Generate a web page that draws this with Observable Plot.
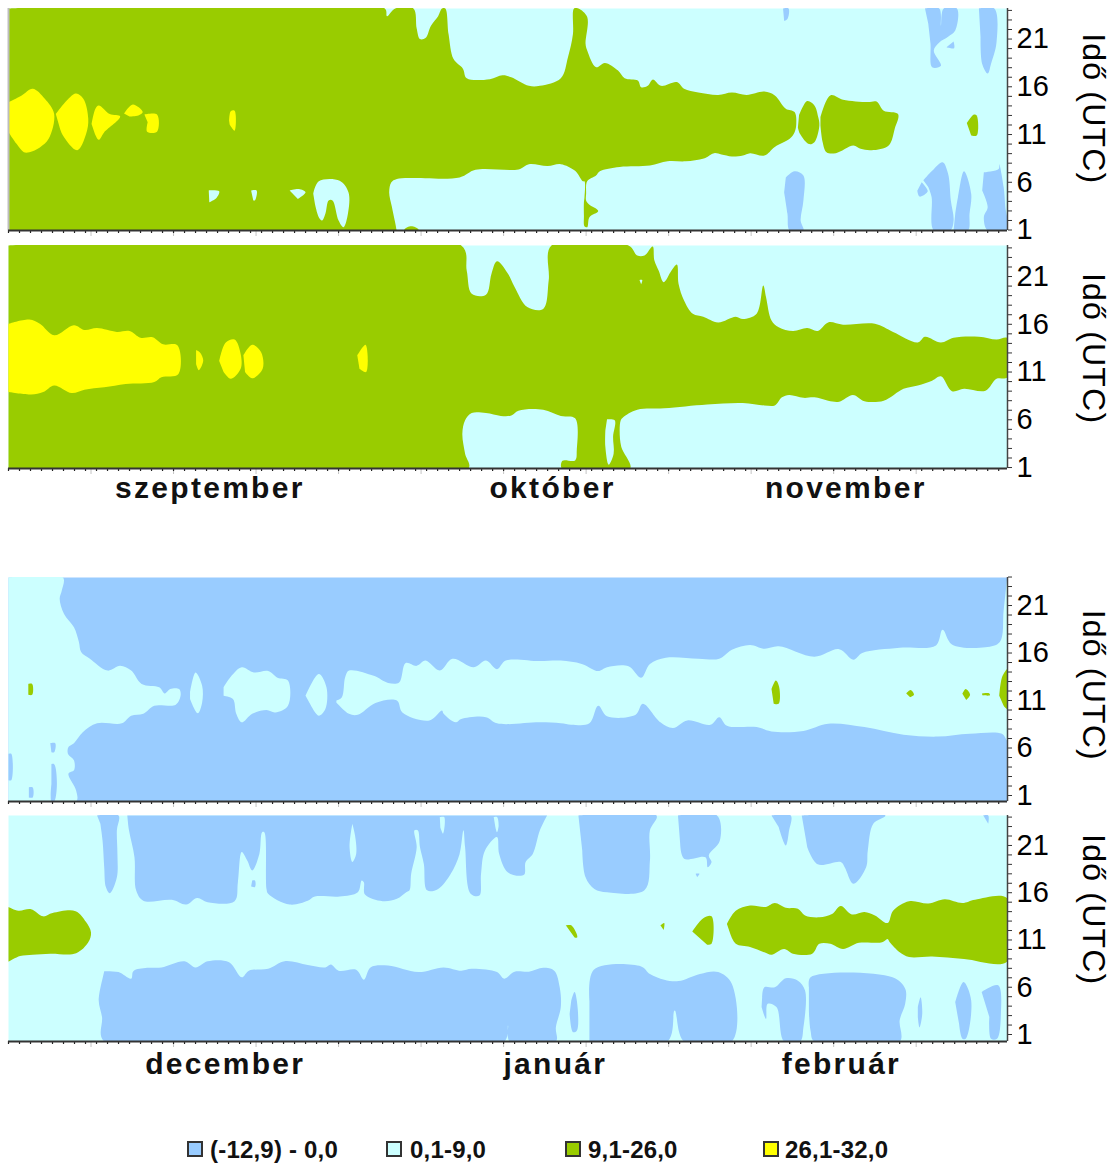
<!DOCTYPE html>
<html>
<head>
<meta charset="utf-8">
<script src="https://cdn.jsdelivr.net/npm/d3@7"></script>
<script src="https://cdn.jsdelivr.net/npm/@observablehq/plot@0.6"></script>
<style>
html,body{margin:0;padding:0;background:#fff;}
#page{position:relative;width:1119px;height:1167px;overflow:hidden;}
#page svg{position:absolute;left:0;overflow:visible;}
.spaced text{letter-spacing:1.2px;}
.month text{letter-spacing:2.3px;}
.legend-item{position:absolute;display:flex;align-items:center;font:bold 24px/16px "Liberation Sans",Arial,sans-serif;letter-spacing:.2px;color:#111;white-space:nowrap;}
.swatch{position:absolute;top:1141px;width:12px;height:12px;border:2px solid #333;}
</style>
</head>
<body>
<div id="page"></div>
<script>
const BLUE="#99CCFF", CYAN="#CCFFFF", GREEN="#99CC00", YELLOW="#FFFF00";

// Days since the start of the season and hour of day (UTC).
const days=d3.range(0,91);
const longTicks=d3.range(7.5,90,7.5);
const hours=d3.range(1,25);
const hourLabels=[1,6,11,16,21];

// ---- panel 1: September-November, first row
const p1Green=[
[[0,24.2],[34.2,24.2],[34.4,23.4],[35.15,24.2],[36.8,24.2],[37.1,22.1],[37.4,21],[37.9,21.1],[38.4,22.4],[39.05,23.4],[39.4,24.2],[39.7,24.2],[40,21.5],[40.45,18.9],[41.3,17.9],[41.65,16.9],[43.75,16.8],[44.9,17.2],[45.7,17],[47.3,16.1],[48.3,16.1],[50.2,16.9],[50.85,19.1],[51.3,21.5],[51.4,24.2],[51.8,24.2],[52.6,23.3],[52.45,20.5],[52.6,19.8],[53.4,18.05],[54.2,18.5],[55.4,17.7],[56,16.9],[57.2,16.65],[57.5,15.95],[58.1,16.1],[58.55,16.75],[59.3,16.1],[60.75,16.5],[61.4,15.8],[62.7,15.4],[64.5,15.15],[65.75,15.4],[67.1,15.15],[68.7,15.5],[69.65,15.1],[70.65,13.7],[71.45,13.35],[71.6,12.1],[71.45,11.25],[71,10.55],[69.65,9.7],[68.7,8.8],[67.4,9.05],[66.75,8.8],[65.75,8.7],[64.8,8.9],[64.15,9.05],[63.2,8.5],[61.55,8.2],[59.9,8.2],[58.3,7.75],[55.55,7.6],[53.75,7.15],[53.4,6.7],[52.6,6.1],[52.5,4.8],[52.5,4.1],[52.8,3.65],[53.6,3],[52.8,2.35],[52.6,1.3],[52.35,1.4],[52.3,2.5],[52.3,3.9],[52.35,4.4],[52.35,6.1],[52.2,6.1],[51.5,7.2],[50.2,7.9],[49,7.7],[47.3,7.9],[46.35,7.35],[42.45,7.3],[41,6.5],[35.3,6.35],[34.8,6],[34.6,4.95],[34.85,3.4],[35.25,1.1],[35.25,0.9],[0,0.9]],
[[36,0.9],[36,1.1],[36.6,1.4],[37.25,1.1],[37.25,0.9]],
[[87.1,12.2],[87.75,13.1],[88,13],[88,10.9],[87.5,10.9]],
[[71.85,13],[72.6,14.5],[73.25,14.05],[73.6,12.8],[73.7,11.95],[73.25,10.2],[72.75,10],[71.95,11.05],[71.75,11.75]],
[[73.8,12.8],[74.7,15.1],[75.85,14.65],[78.1,14.4],[78.9,14.45],[79.55,13.5],[80.85,13.15],[80.55,11.6],[80,9.85],[78.45,9.35],[77.45,9.5],[76.8,9.85],[75.2,9.05],[74.35,9.15],[74,10.2],[73.8,11.95]]
];
const p1Yellow=[
[[0,14.4],[1.2,15.1],[2.2,15.8],[3.3,14.75],[4.15,13.15],[3.65,10.55],[2.85,9.65],[1.9,9.15],[1.4,9.15],[0.75,10],[0,11.25]],
[[4.3,13.15],[6.1,15.3],[6.8,14.75],[7.25,12.65],[7.05,11.05],[6.25,9.35],[4.95,10.9],[4.6,11.95]],
[[7.55,12.1],[7.9,13.7],[8.2,14.05],[9.2,13.15],[10.15,12.9],[8.7,11.25],[8.2,10.45],[7.8,11.25]],
[[10.5,13.2],[11.3,14.15],[12.2,13.35],[11.8,13],[11,12.9]],
[[12.35,13.1],[13.5,13.1],[13.5,11.3],[12.6,11.3],[12.65,12.3]],
[[20.05,12.45],[20.2,13.45],[20.55,13.5],[20.55,11.4],[20.1,12.05]]
];
const p1Cyan=[
[[18.2,5.15],[19.15,5.05],[18.9,4.35],[18.25,3.9]],
[[22.05,5.15],[22.55,5.15],[22.4,4.1],[22.25,4.1]],
[[25.55,5.15],[26.4,5.3],[27,4.95],[26.3,4.25]],
[[27.7,4.8],[28.2,6.1],[30.1,6.15],[30.9,4.95],[30.85,2.7],[30.45,1.3],[30,2],[29.45,4.1],[29.1,4.1],[28.8,2.7],[28.5,2],[28.2,2.35],[27.85,3.75]]
];
const p1Blue=[
[[70.4,24.2],[70.9,24.2],[70.8,23.1],[70.5,22.9]],
[[83.3,24.2],[84.6,24.2],[84.75,22.4],[85,24.2],[86.2,24.2],[86.05,21.9],[85.4,21.25],[84.6,20.65],[84.1,19.8],[84.75,18.2],[83.95,18.05],[83.8,20.5],[83.6,22.6]],
[[85.9,20.75],[85.95,20.05],[85.25,20.15]],
[[88.2,24.2],[89.6,24.2],[89.8,20.65],[89.3,18.4],[89,17.4],[88.5,18.4],[88.35,21.2]],
[[70.65,6.5],[71.45,7.15],[72.25,6.7],[72.25,4.1],[72,2],[72.25,0.95],[71,0.95],[70.8,2.7],[70.5,4.95]],
[[83.15,6.2],[83.95,7.2],[84.9,8.1],[85.4,6.9],[85.65,4.1],[85.9,2],[85.6,0.95],[84.1,0.95],[83.9,4.45],[83.6,5.5]],
[[83,6],[83.55,5.05],[82.8,4.5],[82.6,5.1]],
[[86.05,2.7],[86.3,4.45],[86.85,7.15],[87.5,4.8],[87.35,2.7],[87.2,0.95],[85.9,0.95]],
[[88.65,7.05],[90,7.4],[90.05,7.9],[90.45,5.5],[90.6,3.4],[90.8,0.95],[89,0.95],[88.65,2.35],[89,3.4],[88.5,5.15]]
];

// ---- panel 2: September-November, second row
const p2Green=[
[[0,24.25],[41.15,24.25],[41.65,21.6],[42.1,19.2],[43.4,19.1],[43.9,21.3],[44.4,22.6],[45.4,21.3],[46,19.9],[47.15,17.8],[48.6,17.6],[49.1,20.6],[49.35,24.25],[56.35,24.25],[57.15,23.2],[57.8,23.2],[58.55,24.15],[58.7,22.7],[59.1,21.6],[59.55,20.4],[60.25,21.6],[60.75,22.25],[60.9,20.25],[61.4,18.5],[62.2,17.1],[63.15,16.8],[64.5,16.2],[66.1,16.8],[66.75,16.55],[68,17.1],[68.6,20.05],[68.85,18.85],[69.35,16.4],[70,15.7],[71.3,15.3],[72.6,15.6],[73.55,15.3],[74.5,16.2],[75.85,15.95],[78.75,16.05],[80.4,15.2],[82.65,14.1],[83.3,14.7],[84.75,14.1],[85.9,14.6],[88.2,14.7],[89.8,14.4],[90.8,14.55],[90.8,10.45],[89.8,10.3],[88.8,9.05],[86.85,9.25],[85.75,9],[84.75,10.55],[83.95,10.1],[82.65,9.6],[81.35,9.25],[79.55,8],[77.8,7.95],[76.75,8.6],[75.5,7.9],[74.5,8],[73.25,8.35],[72.25,8.3],[70.95,8.6],[70.3,8.35],[69.65,7.5],[68.7,7.5],[66.75,7.75],[63.5,7.6],[59.6,7.2],[57.15,7.05],[55.85,6.25],[55.65,5.95],[55.55,4.9],[55.7,3.15],[56.5,0.9],[50.3,0.9],[50.35,1.7],[51.5,1.75],[51.65,2.8],[51.5,6.15],[50.2,6.4],[48.6,7.05],[46.35,6.95],[45.7,6.45],[44.75,6.4],[43.4,6.7],[42.1,6.7],[41.5,5.95],[41.25,4.55],[41.5,2.45],[41.8,0.9],[0,0.9]]
];
const p2Cyan=[
[[54.4,6.05],[55.1,5.95],[54.95,4.2],[55,2.45],[54.55,1.3],[54.25,3.15],[54.25,4.9]],
[[57.35,20.65],[57.6,20.65],[57.5,20.2]]
];
const p2Yellow=[
[[0,16.05],[1.9,16.5],[2.85,16.05],[4.15,14.85],[5.95,15.9],[6.9,15.4],[8.05,15.6],[9.85,15.2],[11,15.3],[12,14.6],[13.1,14.65],[14.05,13.9],[15.35,13.8],[15.45,10.8],[13.9,10.45],[13.25,9.95],[10.65,9.75],[8.7,9.4],[6.9,9.15],[5.75,8.8],[4.15,9.6],[3.15,8.9],[2.05,8.65],[0,8.9]],
[[17.05,13.3],[17.4,13.05],[17.7,12.2],[17.3,11.2],[17.05,11.85]],
[[19.15,12.15],[19.75,14.1],[20.55,14.4],[21.1,12.9],[21.1,11.35],[20.2,10.3],[19.55,11]],
[[21.35,12.75],[22.15,13.85],[22.95,13.1],[23.1,11.35],[22.15,10.35],[21.5,11]],
[[31.7,12.75],[32.45,13.85],[32.5,11],[31.9,11.35]]
];

// ---- panel 3: December-February, first row
const p3Cyan=[
[[0,23.95],[4.95,23.95],[4.85,22.6],[4.65,21.7],[5.05,20.1],[5.95,18.7],[6.4,17.15],[6.6,16.1],[7.4,15.4],[9,14.15],[10.15,14.65],[11.15,14.15],[12.1,12.75],[13.7,12.4],[14.2,11.75],[14.7,12.2],[15.5,12.2],[15.65,11.6],[15.2,10.55],[13.25,10.45],[12.25,9.6],[11.15,9.4],[10.3,8.6],[8.05,8.6],[6.75,7.65],[5.95,6.5],[5.45,6.1],[5.4,5.4],[5.95,4.7],[5.95,3.65],[5.45,3.3],[6.15,1.5],[6.15,0.37],[0,0.37]],
[[29.8,11],[30.3,11.35],[30.6,13.45],[30.95,14.15],[33.2,13.6],[34.5,12.85],[35.5,12.9],[36.1,14.95],[37.1,14.65],[37.9,15.2],[39.2,14.15],[40.35,15.4],[42.3,14.5],[43.4,15.2],[44.4,14.3],[45.2,15.2],[48.3,15.15],[50.2,15.2],[52.1,14.85],[53.6,14.1],[54.4,14.5],[56.35,14.6],[57.5,13.4],[58.3,14.85],[59.75,15.5],[62.7,15.4],[64.6,15.4],[65.75,16.35],[67.4,16.85],[68.7,16.45],[70,16.7],[73.25,15.6],[75.5,16.4],[76.8,15.3],[77.6,16],[81,16.55],[84.3,16.8],[84.9,18.45],[85.75,16.9],[88.8,16.6],[90.1,17.15],[90.45,20.5],[90.75,23.6],[90.8,23.95],[90.8,6.8],[90.3,7.5],[87.35,7.5],[84.45,7.2],[81.35,7.4],[77.8,8.2],[74.5,8.55],[72.25,7.8],[69.35,7.75],[68,8.2],[65.3,8.35],[64.6,9.25],[63.8,8.45],[61.7,8.9],[60.4,8.1],[59.25,8.7],[57.65,10.65],[57,9.5],[54.4,9.35],[53.6,10.45],[52.8,8.6],[51.15,8.45],[50.2,8.6],[48.3,8.7],[44.4,8.6],[43.4,9.25],[41.15,9.05],[40.65,8.7],[39.55,9.6],[39.4,9.95],[38.25,8.9],[35.8,9.75],[35.3,11],[33.35,10.75],[31.75,9.5],[30.95,9.6],[29.8,10.8]],
[[16.5,11.85],[17,13.95],[17.6,12.55],[17.6,10.8],[17.2,9.65],[16.5,11.15]],
[[19.55,12.4],[20.2,13.5],[21.2,14.5],[22.3,13.95],[23.6,14.1],[24.45,13.4],[25.4,13.1],[25.4,10.45],[24.25,9.75],[23.45,10],[22.15,9.6],[21.2,8.7],[20.7,9.6],[20.4,11.15],[19.55,11.5]],
[[27,11.5],[28.2,13.8],[28.9,12.4],[28.8,10.1],[28.2,9.4],[27.5,10.45]]
];
const p3Blue=[
[[0,5.4],[0.25,5.4],[0.25,2.6],[0,2.6]],
[[3.8,6.5],[4.25,6.5],[4.15,5.55],[3.9,5.55]],
[[1.85,1.85],[2.2,1.85],[2.2,0.8],[1.85,0.8]],
[[3.9,4.3],[4.15,4.3],[4.4,2.2],[4.15,0.37],[3.9,0.37],[3.9,2.2]]
];
const p3Green=[
[[1.8,12.75],[2.15,12.75],[2.15,11.6],[1.8,11.6]],
[[69.35,12.2],[69.75,13.1],[70.05,12.4],[70,10.65],[69.55,10.65]],
[[81.6,11.75],[82,12.1],[82.3,11.6],[81.95,11.35]],
[[86.7,11.7],[87,12.2],[87.4,11.6],[87.05,11.05]],
[[88.5,11.75],[89.15,11.75],[89.2,11.55],[88.5,11.55]],
[[90.05,11.5],[90.3,13.45],[90.75,14.3],[90.8,14.3],[90.8,10.1],[90.45,10.45]]
];

// ---- panel 4: December-February, second row
const p4Blue=[
[[8.05,24.17],[10,24.17],[9.85,22.6],[9.9,20.1],[9.85,17.65],[9.2,15.95],[8.85,16.6],[8.7,18.7],[8.55,21.5],[8.35,23.3]],
[[10.8,24.17],[10.95,22.6],[11.45,19.75],[11.6,16.25],[12.25,15.15],[14.85,15.25],[16.15,14.75],[17.15,15.45],[18.1,15],[20.55,15.1],[20.85,17.1],[21.2,20.3],[21.7,19.4],[22.15,18.35],[22.8,20.1],[23.05,22.4],[23.25,22.4],[23.45,16.4],[23.6,15.9],[25.55,14.75],[27.2,15.15],[27.85,15.6],[30.1,15.6],[31.75,16.05],[32.1,17.3],[32.3,17.1],[32.4,15.8],[34,15.1],[35.3,15.35],[36.15,16.05],[36.45,16.25],[36.6,18],[37.1,20.8],[36.9,22.6],[37.2,22.6],[37.4,20.8],[37.75,19.05],[38.05,16.25],[39.05,16.4],[40.2,18],[41,20.1],[41.35,22.6],[41.5,20.8],[42,15.9],[42.8,15.7],[42.95,18],[43.3,20.45],[44.4,21.9],[44.6,20.1],[45.4,18.15],[46.85,17.9],[47,19.25],[47.65,20.1],[48.3,22.6],[48.95,24.17]],
[[22.15,17.3],[22.4,17.3],[22.4,16.6],[22.05,16.65]],
[[51.8,24.17],[58.9,24.17],[58.3,22.6],[58.3,19.4],[57.8,16.25],[54.4,16.05],[53.25,16.4],[52.45,17.65],[52.15,20.45]],
[[60.85,24.17],[64.4,24.17],[64.65,21.5],[63.65,19.95],[63.9,19.25],[63.55,18.7],[63.35,19.75],[61.4,19.6],[61.05,21.15]],
[[69.35,24.17],[71.1,24.17],[70.95,22.6],[70.65,21],[70,22.95]],
[[72.1,24.17],[79.7,24.17],[78.6,23.3],[78.1,20.45],[77.95,18.7],[76.8,16.95],[76,18.7],[75.65,19.25],[73.55,19],[72.6,20.8]],
[[88.6,24.17],[89.05,24.17],[89.05,23.3]],
[[62.45,18],[62.8,18],[62.6,17.65]],
[[8.7,7.7],[10,7.6],[11.15,6.9],[11.35,7.7],[12.6,8.05],[13.9,8.1],[16,8.75],[17,8.1],[18.1,8.75],[20.05,8.65],[21.2,7.05],[21.85,7.75],[23.6,7.95],[25.1,8.75],[27.2,8.35],[28.8,8.1],[29.3,8.4],[30,7.75],[31.6,7.85],[32.3,6.8],[32.9,8.1],[34.5,8.3],[37.25,7.6],[39.55,8.1],[41.15,7.75],[42.1,7.95],[44.4,7.6],[45.05,6.9],[46,7.65],[47.3,7.65],[48.6,8.05],[49.6,7.75],[50.1,6],[50.2,3.9],[49.75,1.75],[49.75,0.26],[45.55,0.26],[45.4,1.95],[45.05,0.26],[8.7,0.26],[8.5,2.85],[8.2,4.6],[8.5,6.7]],
[[51.15,4.6],[51.45,5.5],[51.75,3.55],[51.65,1.4],[51.3,1.25],[51,3.2]],
[[52.8,4.6],[53.2,7.85],[57.5,8.2],[58.3,7.4],[59.6,6.8],[60.9,6.65],[62.85,7.4],[64.5,7.6],[65.75,6.35],[65.75,0.26],[61.4,0.26],[60.55,3.55],[59.9,0.26],[52.8,0.26]],
[[68.5,4.95],[68.7,6],[69.65,6],[70.65,6.95],[71.75,6.7],[72.4,5.65],[72.25,1.75],[71.95,0.26],[70.5,0.26],[69.8,3.9],[69,4.25],[68.85,2.65],[68.45,3.9]],
[[72.75,6],[72.9,7.05],[80.35,7.05],[81.5,5.85],[81.5,4.25],[81,2.5],[81,0.26],[73.25,0.26],[72.9,1.4],[72.75,3.55]],
[[82.65,3.9],[82.9,4.95],[83.05,3.2],[82.8,1.75],[82.65,2.85]],
[[86.05,4.4],[86.8,6.55],[87.5,4.6],[87,0.55],[86.7,0.55],[86.4,2.1]],
[[88.45,5.5],[89.95,6.2],[90.2,3.2],[89.85,0.55],[89.3,0.55],[89.15,2.85]]
];
const p4Cyan=[
[[31.25,23.3],[31.5,22.05],[31.6,20.1],[31.25,19.25],[31,20.8],[31.15,22.6]],
[[39.2,24],[39.6,24],[39.5,22.25],[39.25,22.9]],
[[44.1,24],[44.4,24],[44.55,23.1],[44.4,22.4],[44.25,22.95]]
];
const p4Green=[
[[0,14.5],[0.9,14.1],[2.05,14.25],[3.15,13.5],[4,13.85],[6.1,14.05],[7.05,12.9],[7.5,11.8],[7.25,10.75],[6.15,9.6],[3.8,9.55],[2.2,9.45],[1.05,9.3],[0,8.7]],
[[50.65,12.55],[51.15,12.55],[51.7,11.3],[51.45,11.25]],
[[59.25,12.55],[59.6,12.8],[59.55,12.05]],
[[62.15,11.9],[63.15,13.3],[63.9,13.5],[63.9,10.6],[63.5,10.5]],
[[65.3,12.7],[66.1,14.1],[67.4,14.65],[68.85,14.5],[69.65,14.9],[70.65,14.4],[71.75,14.3],[72.4,13.6],[73.7,13.4],[74.85,13.75],[75.65,14.6],[76.65,13.7],[77.8,13.95],[78.75,13.6],[79.9,12.8],[80.4,14.1],[81.85,15.1],[83.6,14.85],[85.1,15.3],[86.7,14.9],[87.85,15.25],[90.8,15.4],[90.8,8.75],[86.85,9],[83.95,9.25],[81.85,9.2],[81,9.7],[80.1,10.75],[79.9,11.1],[79.4,10.75],[77.3,10.7],[75.85,10.05],[74.7,10.6],[73.7,10.6],[73.05,9.55],[71.3,9.55],[70.5,10.05],[69.35,9.45],[68.7,9.7],[67.4,10.25],[66.1,10.6],[65.6,11.65]]
];

// ---- text
const monthsTop=[{m:"szeptember",d:18.3},{m:"október",d:49.45},{m:"november",d:76.1}];
const monthsBottom=[{m:"december",d:19.7},{m:"január",d:49.7},{m:"február",d:75.7}];
const legendLabels=["(-12,9) - 0,0","0,1-9,0","9,1-26,0","26,1-32,0"];
const legendColors=[BLUE,CYAN,GREEN,YELLOW];
const legendSwatchLeft=[187,386,565,763];
const legendTextLeft=[210,410,588,785];

const panels=[
 {top:0,height:240,mt:8,mb:10,y:[0.95,24.2],base:CYAN,titleAt:13.7,edge:true,
  layers:[[p1Green,GREEN],[p1Yellow,YELLOW],[p1Cyan,CYAN],[p1Blue,BLUE]]},
 {top:240,height:270,mt:5,mb:42,y:[0.9,24.25],base:CYAN,titleAt:13.45,months:monthsTop,monthAt:-1.2,
  layers:[[p2Green,GREEN],[p2Cyan,CYAN],[p2Yellow,YELLOW]]},
 {top:570,height:240,mt:7,mb:9,y:[0.37,23.95],base:BLUE,titleAt:12.6,
  layers:[[p3Cyan,CYAN],[p3Blue,BLUE],[p3Green,GREEN]]},
 {top:810,height:275,mt:5,mb:44,y:[0.26,24.17],base:CYAN,titleAt:14.2,months:monthsBottom,monthAt:-2.17,
  layers:[[p4Blue,BLUE],[p4Cyan,CYAN],[p4Green,GREEN]]}
];

const page=document.getElementById("page");
const X_MAX=90.8;
const blank=()=>"";

function polygons(list,color){
  const rows=list.flatMap((pts,i)=>pts.map(([x,y])=>({x,y,i})));
  return Plot.line(rows,{x:"x",y:"y",z:"i",fill:color,stroke:"none",curve:"catmull-rom",clip:true});
}

for(const p of panels){
  const marks=[Plot.frame({fill:p.base,stroke:"none"})];
  for(const [list,color] of p.layers) marks.push(polygons(list,color));
  if(p.edge) marks.push(Plot.ruleX([0],{stroke:"#bdbdbd",strokeWidth:2}));
  marks.push(
    Plot.axisX(longTicks,{anchor:"bottom",tickSize:6,stroke:"#c4c4c4",tickFormat:blank,label:null}),
    Plot.axisX(days,{anchor:"bottom",tickSize:3,stroke:"#222",strokeWidth:1.2,tickFormat:blank,label:null}),
    Plot.ruleY([p.y[0]],{stroke:"#333",strokeWidth:2}),
    Plot.ruleX([X_MAX],{stroke:"#444",strokeWidth:1.5}),
    Plot.axisY(hours,{anchor:"right",tickSize:4,stroke:"#333",tickFormat:blank,label:null}),
    Plot.axisY(hourLabels,{anchor:"right",tickSize:0,tickPadding:9,fontSize:29,fill:"#000",tickFormat:d=>String(d),label:null}),
    Plot.text(["Idő (UTC)"],{x:98.6,y:p.titleAt,rotate:90,fontSize:32,fill:"#000",className:"spaced"})
  );
  if(p.months) marks.push(Plot.text(p.months,{x:"d",y:p.monthAt,text:"m",fontSize:30,fontWeight:"bold",fill:"#111",className:"month"}));
  const svg=Plot.plot({
    width:1119,height:p.height,
    marginLeft:8,marginRight:112,marginTop:p.mt,marginBottom:p.mb,
    x:{domain:[0,X_MAX],axis:null},
    y:{domain:p.y,axis:null},
    style:{fontFamily:"'Liberation Sans',Arial,sans-serif",background:"transparent",overflow:"visible"},
    marks
  });
  svg.style.top=p.top+"px";
  page.appendChild(svg);
}

legendLabels.forEach((t,i)=>{
  const s=document.createElement("div");
  s.className="swatch";
  s.style.left=legendSwatchLeft[i]+"px";
  s.style.background=legendColors[i];
  page.appendChild(s);
  const l=document.createElement("div");
  l.className="legend-item";
  l.style.left=legendTextLeft[i]+"px";
  l.style.top="1142px";
  l.textContent=t;
  page.appendChild(l);
});
</script>
</body>
</html>
